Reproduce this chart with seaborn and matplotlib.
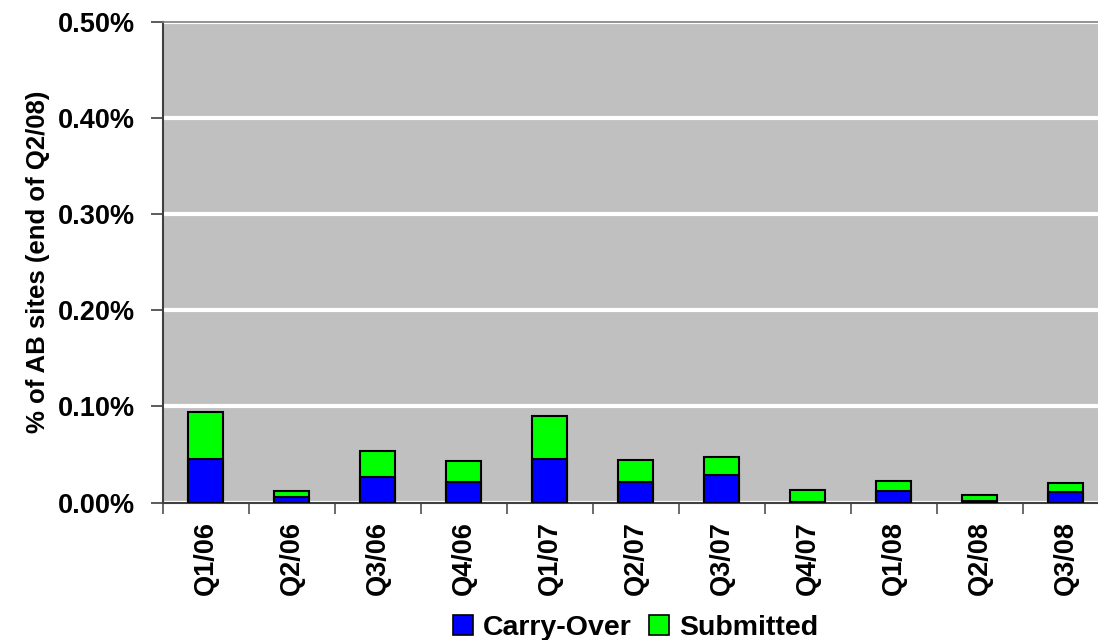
import matplotlib
matplotlib.use("Agg")
import matplotlib.pyplot as plt
from matplotlib.patches import Patch
from matplotlib.ticker import FixedLocator, FuncFormatter, NullFormatter
import seaborn as sns
import pandas as pd

quarters = ["Q1/06", "Q2/06", "Q3/06", "Q4/06", "Q1/07", "Q2/07",
            "Q3/07", "Q4/07", "Q1/08", "Q2/08", "Q3/08"]
carry_over = [0.045, 0.0056, 0.0266, 0.021, 0.045, 0.022,
              0.0287, 0.001, 0.012, 0.002, 0.0108]
submitted = [0.049, 0.0064, 0.0274, 0.022, 0.045, 0.022,
             0.0193, 0.0118, 0.0108, 0.0057, 0.0099]
y_ticks = [0.0, 0.1, 0.2, 0.3, 0.4, 0.5]

sns.set_style("ticks")
plt.rcParams["font.family"] = ["Liberation Sans", "DejaVu Sans"]
plt.rcParams["font.weight"] = "bold"
plt.rcParams["text.color"] = "black"
plt.rcParams["axes.labelcolor"] = "black"
plt.rcParams["xtick.labelcolor"] = "black"
plt.rcParams["ytick.labelcolor"] = "black"

df = pd.DataFrame({
    "quarter": quarters,
    "carry": carry_over,
    "total": [c + s for c, s in zip(carry_over, submitted)],
})

W, H = 1098, 640
fig = plt.figure(figsize=(W / 100, H / 100), dpi=100)
left, right, top, bottom = 162.7, 1108.7, 21.7, 502.7
ax = fig.add_axes([left / W, 1 - bottom / H, (right - left) / W, (bottom - top) / H])
ax.set_facecolor("#C0C0C0")

blue = "#0000FF"
green = "#00FF00"
bw = 0.41

# Stacked bars: full height in green, carry-over share in blue on top of it
sns.barplot(data=df, x="quarter", y="total", color=green, saturation=1,
            width=bw, edgecolor="black", linewidth=1.5, ax=ax, zorder=3)
sns.barplot(data=df, x="quarter", y="carry", color=blue, saturation=1,
            width=bw, edgecolor="black", linewidth=1.5, ax=ax, zorder=4)

n = len(quarters)
ax.set_xlim(-0.5, n - 0.5)
ax.set_ylim(0, 0.5)

# Y axis
ax.yaxis.set_major_locator(FixedLocator(y_ticks))
ax.yaxis.set_major_formatter(FuncFormatter(lambda v, p: f"{v:.2f}%"))
ax.yaxis.grid(True, color="white", linewidth=3, zorder=1)
ax.set_axisbelow(True)
ax.tick_params(axis="y", length=9, width=1.2, color="#404040", pad=11,
               labelsize=19.5, labelcolor="black")
for t in ax.get_yticklabels():
    t.set_fontweight("bold")

ax.set_ylabel("% of AB sites (end of Q2/08)", fontsize=18.5, fontweight="bold",
              va="center", color="black")
ax.yaxis.set_label_coords((38 - left) / (right - left), 0.5)

# X axis: ticks on category boundaries, labels on centres
ax.xaxis.set_major_locator(FixedLocator([i - 0.5 for i in range(n + 1)]))
ax.xaxis.set_major_formatter(NullFormatter())
ax.set_xticks(list(range(n)), minor=True)
ax.set_xticklabels(quarters, minor=True, rotation=90, fontsize=19.5,
                   fontweight="bold", color="black")
ax.tick_params(axis="x", which="major", length=8, width=1.2, color="#505050")
ax.tick_params(axis="x", which="minor", length=0, pad=13)
ax.set_xlabel("")

for side in ["left", "bottom"]:
    ax.spines[side].set_color("#404040")
    ax.spines[side].set_linewidth(1.5)
ax.spines["top"].set_visible(True)
ax.spines["top"].set_color("#808080")
ax.spines["top"].set_linewidth(1.2)
ax.spines["right"].set_visible(False)

handles = [Patch(facecolor=blue, edgecolor="black", linewidth=1.2, label="Carry-Over"),
           Patch(facecolor=green, edgecolor="black", linewidth=1.2, label="Submitted")]
fig.legend(handles=handles, loc="center", ncol=2, frameon=False,
           bbox_to_anchor=((left + right) / 2 / W, 1 - 628 / H),
           prop={"size": 20.5, "weight": "bold"}, labelcolor="black",
           handlelength=0.7, handleheight=0.65, handletextpad=0.35,
           columnspacing=0.6, borderpad=0, borderaxespad=0)

fig.savefig("out.png", dpi=100)
